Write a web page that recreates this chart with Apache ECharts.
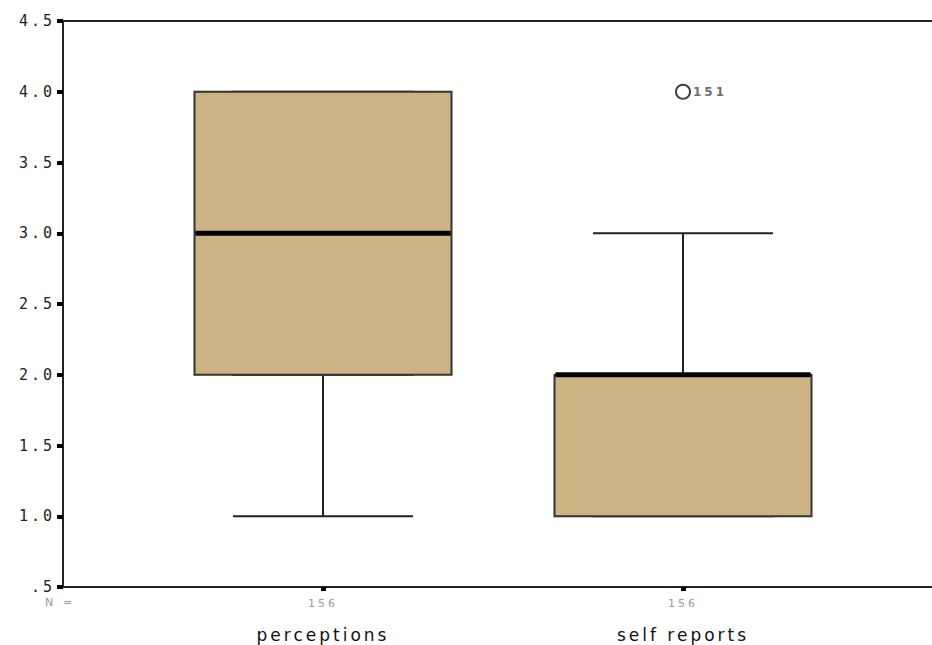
<!DOCTYPE html>
<html>
<head>
<meta charset="utf-8">
<script src="https://cdn.jsdelivr.net/npm/echarts@6/dist/echarts.min.js"></script>
<style>
  html, body { margin: 0; padding: 0; background: #fff; }
  #chart { width: 932px; height: 645px; }
  /* wide, bitmap-style spacing of the printed labels */
  #chart text { letter-spacing: 3px; }
</style>
</head>
<body>
<div id="chart"></div>
<script>
// Variables on the horizontal axis and their valid case counts
const categories = ['perceptions', 'self reports'];
const caseCounts = [156, 156];

// Five-number summaries per variable: [min, Q1, median, Q3, max]
const boxStats = [
  [1, 2, 3, 4, 4],
  [1, 1, 2, 2, 3]
];

// Outlying cases: [category index, value, case label]
const outliers = [
  [1, 4, '151']
];

// Value axis range and tick step
const yMin = 0.5;
const yMax = 4.5;
const yStep = 0.5;

const boxFill = '#CCB383';

// Layers built from the summaries: whiskers with short caps,
// the interquartile box, and a heavy median bar.
const whiskerData = boxStats.map(s => s.slice());
const boxData = boxStats.map(s => [s[1], s[1], s[2], s[3], s[3]]);
const medianData = boxStats.map(s => [s[2], s[2], s[2], s[2], s[2]]);

const chart = echarts.init(document.getElementById('chart'), null, { renderer: 'svg' });

const hiddenCat = (gridIndex) => ({
  type: 'category', gridIndex, data: categories, show: false
});

chart.setOption({
  animation: false,
  backgroundColor: '#ffffff',
  grid: [
    { left: 63, top: 21, bottom: 58, width: 890 },
    { left: 143, top: 21, bottom: 58, width: 720 }
  ],
  xAxis: [
    {
      type: 'value', gridIndex: 0, min: 0, max: 1, position: 'bottom',
      axisLine: { show: true, lineStyle: { color: '#222', width: 2 } },
      axisTick: { show: false }, axisLabel: { show: false }, splitLine: { show: false }
    },
    {
      type: 'value', gridIndex: 0, min: 0, max: 1, position: 'top',
      axisLine: { show: true, lineStyle: { color: '#222', width: 2 } },
      axisTick: { show: false }, axisLabel: { show: false }, splitLine: { show: false }
    },
    {
      type: 'category', gridIndex: 1, data: categories, position: 'bottom',
      axisLine: { show: false },
      axisTick: { show: true, alignWithLabel: true, length: 4, lineStyle: { color: '#000', width: 5 } },
      axisLabel: {
        margin: 6,
        formatter: (v, i) => '{n|' + caseCounts[i] + '}\n{c|' + v + '}',
        rich: {
          n: { fontFamily: 'DejaVu Sans', fontSize: 11, color: '#9a9a9a', lineHeight: 20 },
          c: { fontFamily: 'DejaVu Sans', fontSize: 17, color: '#111', lineHeight: 44 }
        }
      },
      splitLine: { show: false }
    },
    hiddenCat(1),
    hiddenCat(1)
  ],
  yAxis: [
    {
      type: 'value', gridIndex: 0, min: yMin, max: yMax, interval: yStep,
      axisLine: { show: true, lineStyle: { color: '#222', width: 2 } },
      axisTick: { show: true, length: 6, lineStyle: { color: '#000', width: 4 } },
      axisLabel: {
        margin: 8,
        fontFamily: 'DejaVu Sans Mono', fontSize: 15, color: '#222',
        formatter: v => (v === 0.5 ? '.5' : v.toFixed(1))
      },
      splitLine: { show: false }
    },
    { type: 'value', gridIndex: 1, min: yMin, max: yMax, show: false }
  ],
  graphic: [
    {
      type: 'text', left: 45, top: 597,
      style: { text: 'N =', fontFamily: 'DejaVu Sans', fontSize: 11, fill: '#9a9a9a' }
    }
  ],
  series: [
    {
      name: 'whiskers', type: 'boxplot', xAxisIndex: 2, yAxisIndex: 1,
      boxWidth: [180, 180], z: 2, silent: true,
      itemStyle: { color: 'rgba(0,0,0,0)', borderColor: '#222', borderWidth: 2 },
      emphasis: { disabled: true },
      data: whiskerData
    },
    {
      name: 'box', type: 'boxplot', xAxisIndex: 3, yAxisIndex: 1,
      boxWidth: [257, 257], z: 3, silent: true,
      itemStyle: { color: boxFill, borderColor: '#333', borderWidth: 2 },
      emphasis: { disabled: true },
      data: boxData
    },
    {
      name: 'median', type: 'boxplot', xAxisIndex: 4, yAxisIndex: 1,
      boxWidth: [255, 255], z: 4, silent: true,
      itemStyle: { color: '#000', borderColor: '#000', borderWidth: 5 },
      emphasis: { disabled: true },
      data: medianData
    },
    {
      name: 'outliers', type: 'scatter', xAxisIndex: 2, yAxisIndex: 1, z: 5, silent: true,
      symbol: 'emptyCircle', symbolSize: 14,
      itemStyle: { color: '#111', borderColor: '#111', borderWidth: 1.5 },
      label: {
        show: true, position: 'right', distance: 2,
        formatter: p => p.data[2],
        fontFamily: 'DejaVu Sans', fontWeight: 'bold', fontSize: 12, color: '#444'
      },
      data: outliers
    }
  ]
});
</script>
</body>
</html>
